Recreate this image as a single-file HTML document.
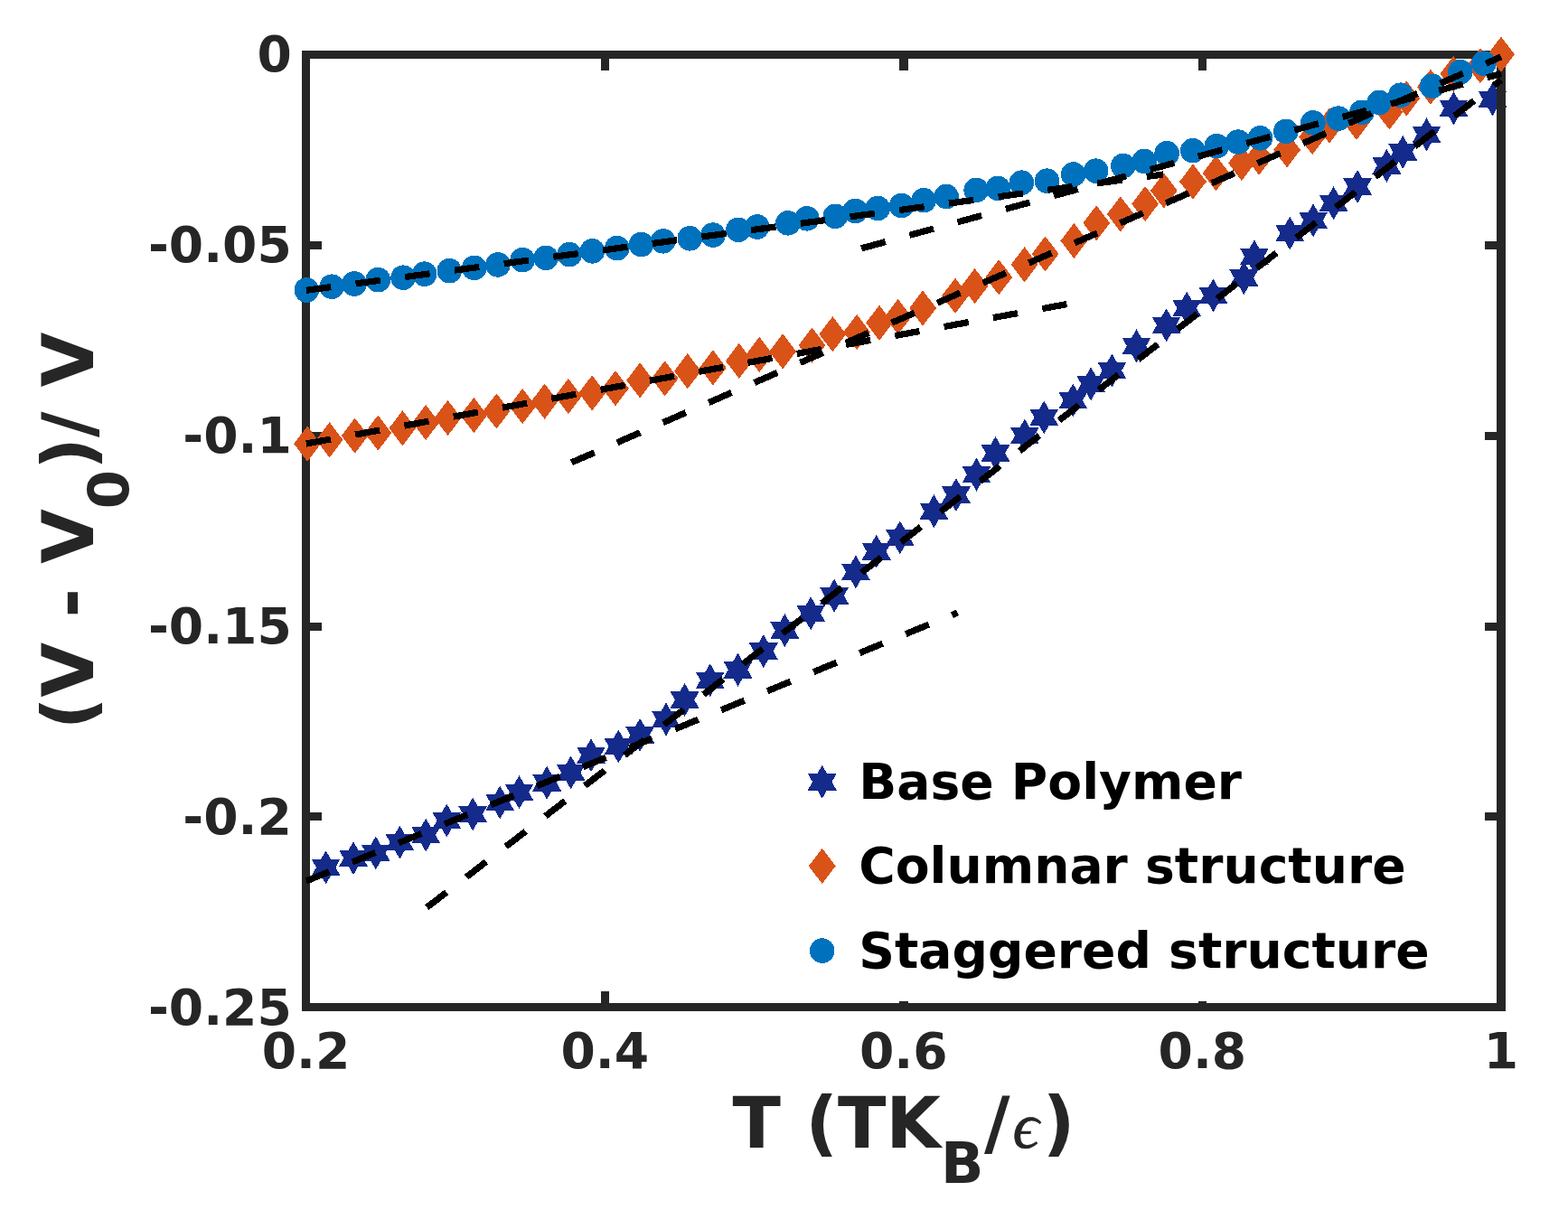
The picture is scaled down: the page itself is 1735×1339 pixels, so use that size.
<!DOCTYPE html>
<html lang="en"><head><meta charset="utf-8"><title>Volume change vs temperature</title>
<style>
html,body{margin:0;padding:0;background:#fff;}
body{width:1735px;height:1339px;overflow:hidden;}
svg{display:block;}
text{font-family:"DejaVu Sans","Liberation Sans",sans-serif;font-weight:bold;}
.tk{font-size:55.1px;fill:#262626;}
.lb{font-size:78.3px;fill:#262626;}
.sb{font-size:62.3px;}
.lg{font-size:55.15px;fill:#000;}
.ep{font-family:"Liberation Serif","DejaVu Serif",serif;font-style:italic;font-weight:normal;font-size:72.6px;stroke:#262626;stroke-width:0.5px;}
</style></head><body>
<svg width="1735" height="1339" viewBox="0 0 1735 1339" role="img" aria-label="Relative volume change versus temperature">
<rect width="1735" height="1339" fill="#fff"/>
<g fill="#142B8C" shape-rendering="crispEdges">
<polygon points="360.6,941.4 365.9,950.6 376.6,950.6 371.3,959.9 376.6,969.1 365.9,969.1 360.6,978.4 355.3,969.1 344.6,969.1 349.9,959.9 344.6,950.6 355.3,950.6"/>
<polygon points="391,931.2 396.3,940.5 407,940.5 401.7,949.7 407,959 396.3,959 391,968.2 385.7,959 375,959 380.3,949.7 375,940.5 385.7,940.5"/>
<polygon points="415.8,925.4 421.1,934.6 431.8,934.6 426.5,943.9 431.8,953.1 421.1,953.1 415.8,962.4 410.5,953.1 399.8,953.1 405.1,943.9 399.8,934.6 410.5,934.6"/>
<polygon points="442.4,913.6 447.7,922.9 458.4,922.9 453.1,932.1 458.4,941.4 447.7,941.4 442.4,950.6 437.1,941.4 426.4,941.4 431.7,932.1 426.4,922.9 437.1,922.9"/>
<polygon points="471.2,905.6 476.5,914.9 487.2,914.9 481.9,924.1 487.2,933.4 476.5,933.4 471.2,942.6 465.9,933.4 455.2,933.4 460.5,924.1 455.2,914.9 465.9,914.9"/>
<polygon points="494.3,889.5 499.6,898.8 510.3,898.8 505,908 510.3,917.2 499.6,917.2 494.3,926.5 489,917.2 478.3,917.2 483.6,908 478.3,898.8 489,898.8"/>
<polygon points="523.1,882.5 528.4,891.8 539.1,891.8 533.8,901 539.1,910.2 528.4,910.2 523.1,919.5 517.8,910.2 507.1,910.2 512.4,901 507.1,891.8 517.8,891.8"/>
<polygon points="553.2,869.5 558.5,878.8 569.2,878.8 563.9,888 569.2,897.2 558.5,897.2 553.2,906.5 547.9,897.2 537.2,897.2 542.5,888 537.2,878.8 547.9,878.8"/>
<polygon points="574.5,858.2 579.8,867.5 590.5,867.5 585.2,876.7 590.5,886 579.8,886 574.5,895.2 569.2,886 558.5,886 563.8,876.7 558.5,867.5 569.2,867.5"/>
<polygon points="605.1,847.7 610.4,857 621.1,857 615.8,866.2 621.1,875.5 610.4,875.5 605.1,884.7 599.8,875.5 589.1,875.5 594.4,866.2 589.1,857 599.8,857"/>
<polygon points="631.7,836.4 637,845.6 647.7,845.6 642.4,854.9 647.7,864.1 637,864.1 631.7,873.4 626.4,864.1 615.7,864.1 621,854.9 615.7,845.6 626.4,845.6"/>
<polygon points="654,817.3 659.3,826.5 670,826.5 664.7,835.8 670,845 659.3,845 654,854.3 648.7,845 638,845 643.3,835.8 638,826.5 648.7,826.5"/>
<polygon points="684.3,807.6 689.6,816.9 700.3,816.9 695,826.1 700.3,835.4 689.6,835.4 684.3,844.6 679,835.4 668.3,835.4 673.6,826.1 668.3,816.9 679,816.9"/>
<polygon points="708.1,794.8 713.4,804 724.1,804 718.8,813.3 724.1,822.5 713.4,822.5 708.1,831.8 702.8,822.5 692.1,822.5 697.4,813.3 692.1,804 702.8,804"/>
<polygon points="737,777.5 742.3,786.8 753,786.8 747.7,796 753,805.2 742.3,805.2 737,814.5 731.7,805.2 721,805.2 726.3,796 721,786.8 731.7,786.8"/>
<polygon points="757.6,756 762.9,765.2 773.6,765.2 768.3,774.5 773.6,783.8 762.9,783.8 757.6,793 752.3,783.8 741.6,783.8 746.9,774.5 741.6,765.2 752.3,765.2"/>
<polygon points="785.7,734.2 791,743.5 801.7,743.5 796.4,752.7 801.7,762 791,762 785.7,771.2 780.4,762 769.7,762 775,752.7 769.7,743.5 780.4,743.5"/>
<polygon points="816.5,722.7 821.8,732 832.5,732 827.2,741.2 832.5,750.5 821.8,750.5 816.5,759.7 811.2,750.5 800.5,750.5 805.8,741.2 800.5,732 811.2,732"/>
<polygon points="844.8,702.1 850.1,711.4 860.8,711.4 855.5,720.6 860.8,729.9 850.1,729.9 844.8,739.1 839.5,729.9 828.8,729.9 834.1,720.6 828.8,711.4 839.5,711.4"/>
<polygon points="868.4,679.1 873.7,688.4 884.4,688.4 879.1,697.6 884.4,706.9 873.7,706.9 868.4,716.1 863.1,706.9 852.4,706.9 857.7,697.6 852.4,688.4 863.1,688.4"/>
<polygon points="897.2,660.3 902.5,669.5 913.2,669.5 907.9,678.8 913.2,688 902.5,688 897.2,697.3 891.9,688 881.2,688 886.5,678.8 881.2,669.5 891.9,669.5"/>
<polygon points="923.1,640.7 928.4,650 939.1,650 933.8,659.2 939.1,668.5 928.4,668.5 923.1,677.7 917.8,668.5 907.1,668.5 912.4,659.2 907.1,650 917.8,650"/>
<polygon points="946.9,614.4 952.2,623.6 962.9,623.6 957.6,632.9 962.9,642.1 952.2,642.1 946.9,651.4 941.6,642.1 930.9,642.1 936.2,632.9 930.9,623.6 941.6,623.6"/>
<polygon points="969.7,591.8 975,601 985.7,601 980.4,610.3 985.7,619.5 975,619.5 969.7,628.8 964.4,619.5 953.7,619.5 959,610.3 953.7,601 964.4,601"/>
<polygon points="995.8,576.3 1001.1,585.5 1011.8,585.5 1006.5,594.8 1011.8,604 1001.1,604 995.8,613.3 990.5,604 979.8,604 985.1,594.8 979.8,585.5 990.5,585.5"/>
<polygon points="1033.4,547.2 1038.7,556.5 1049.4,556.5 1044.1,565.7 1049.4,575 1038.7,575 1033.4,584.2 1028.1,575 1017.4,575 1022.7,565.7 1017.4,556.5 1028.1,556.5"/>
<polygon points="1057.9,529.1 1063.2,538.4 1073.9,538.4 1068.6,547.6 1073.9,556.9 1063.2,556.9 1057.9,566.1 1052.6,556.9 1041.9,556.9 1047.2,547.6 1041.9,538.4 1052.6,538.4"/>
<polygon points="1080.5,506.6 1085.8,515.9 1096.5,515.9 1091.2,525.1 1096.5,534.4 1085.8,534.4 1080.5,543.6 1075.2,534.4 1064.5,534.4 1069.8,525.1 1064.5,515.9 1075.2,515.9"/>
<polygon points="1101.5,483 1106.8,492.2 1117.5,492.2 1112.2,501.5 1117.5,510.8 1106.8,510.8 1101.5,520 1096.2,510.8 1085.5,510.8 1090.8,501.5 1085.5,492.2 1096.2,492.2"/>
<polygon points="1133.9,463.5 1139.2,472.8 1149.9,472.8 1144.6,482 1149.9,491.2 1139.2,491.2 1133.9,500.5 1128.6,491.2 1117.9,491.2 1123.2,482 1117.9,472.8 1128.6,472.8"/>
<polygon points="1155.2,443.4 1160.5,452.6 1171.2,452.6 1165.9,461.9 1171.2,471.1 1160.5,471.1 1155.2,480.4 1149.9,471.1 1139.2,471.1 1144.5,461.9 1139.2,452.6 1149.9,452.6"/>
<polygon points="1187.3,424.6 1192.6,433.9 1203.3,433.9 1198,443.1 1203.3,452.4 1192.6,452.4 1187.3,461.6 1182,452.4 1171.3,452.4 1176.6,443.1 1171.3,433.9 1182,433.9"/>
<polygon points="1207.1,406.3 1212.4,415.6 1223.1,415.6 1217.8,424.8 1223.1,434.1 1212.4,434.1 1207.1,443.3 1201.8,434.1 1191.1,434.1 1196.4,424.8 1191.1,415.6 1201.8,415.6"/>
<polygon points="1230.4,391.5 1235.7,400.8 1246.4,400.8 1241.1,410 1246.4,419.2 1235.7,419.2 1230.4,428.5 1225.1,419.2 1214.4,419.2 1219.7,410 1214.4,400.8 1225.1,400.8"/>
<polygon points="1257.5,364.4 1262.8,373.6 1273.5,373.6 1268.2,382.9 1273.5,392.1 1262.8,392.1 1257.5,401.4 1252.2,392.1 1241.5,392.1 1246.8,382.9 1241.5,373.6 1252.2,373.6"/>
<polygon points="1290.6,341.4 1295.9,350.6 1306.6,350.6 1301.3,359.9 1306.6,369.1 1295.9,369.1 1290.6,378.4 1285.3,369.1 1274.6,369.1 1279.9,359.9 1274.6,350.6 1285.3,350.6"/>
<polygon points="1313.2,322.6 1318.5,331.9 1329.2,331.9 1323.9,341.1 1329.2,350.4 1318.5,350.4 1313.2,359.6 1307.9,350.4 1297.2,350.4 1302.5,341.1 1297.2,331.9 1307.9,331.9"/>
<polygon points="1342.5,308.5 1347.8,317.8 1358.5,317.8 1353.2,327 1358.5,336.2 1347.8,336.2 1342.5,345.5 1337.2,336.2 1326.5,336.2 1331.8,327 1326.5,317.8 1337.2,317.8"/>
<polygon points="1376.4,289.2 1381.7,298.4 1392.4,298.4 1387.1,307.7 1392.4,316.9 1381.7,316.9 1376.4,326.2 1371.1,316.9 1360.4,316.9 1365.7,307.7 1360.4,298.4 1371.1,298.4"/>
<polygon points="1387.9,265.4 1393.2,274.6 1403.9,274.6 1398.6,283.9 1403.9,293.1 1393.2,293.1 1387.9,302.4 1382.6,293.1 1371.9,293.1 1377.2,283.9 1371.9,274.6 1382.6,274.6"/>
<polygon points="1427.2,239.6 1432.5,248.9 1443.2,248.9 1437.9,258.1 1443.2,267.4 1432.5,267.4 1427.2,276.6 1421.9,267.4 1411.2,267.4 1416.5,258.1 1411.2,248.9 1421.9,248.9"/>
<polygon points="1453.1,225.3 1458.4,234.6 1469.1,234.6 1463.8,243.8 1469.1,253.1 1458.4,253.1 1453.1,262.3 1447.8,253.1 1437.1,253.1 1442.4,243.8 1437.1,234.6 1447.8,234.6"/>
<polygon points="1475.6,206.3 1480.9,215.6 1491.6,215.6 1486.3,224.8 1491.6,234.1 1480.9,234.1 1475.6,243.3 1470.3,234.1 1459.6,234.1 1464.9,224.8 1459.6,215.6 1470.3,215.6"/>
<polygon points="1502.1,188 1507.4,197.2 1518.1,197.2 1512.8,206.5 1518.1,215.8 1507.4,215.8 1502.1,225 1496.8,215.8 1486.1,215.8 1491.4,206.5 1486.1,197.2 1496.8,197.2"/>
<polygon points="1534.4,164.9 1539.7,174.2 1550.4,174.2 1545.1,183.4 1550.4,192.7 1539.7,192.7 1534.4,201.9 1529.1,192.7 1518.4,192.7 1523.7,183.4 1518.4,174.2 1529.1,174.2"/>
<polygon points="1552.2,149.8 1557.5,159.1 1568.2,159.1 1562.9,168.3 1568.2,177.6 1557.5,177.6 1552.2,186.8 1546.9,177.6 1536.2,177.6 1541.5,168.3 1536.2,159.1 1546.9,159.1"/>
<polygon points="1578.5,130.4 1583.8,139.7 1594.5,139.7 1589.2,148.9 1594.5,158.2 1583.8,158.2 1578.5,167.4 1573.2,158.2 1562.5,158.2 1567.8,148.9 1562.5,139.7 1573.2,139.7"/>
<polygon points="1608.5,101.4 1613.8,110.7 1624.5,110.7 1619.2,119.9 1624.5,129.2 1613.8,129.2 1608.5,138.4 1603.2,129.2 1592.5,129.2 1597.8,119.9 1592.5,110.7 1603.2,110.7"/>
<polygon points="1651.5,91.4 1656.8,100.7 1667.5,100.7 1662.2,109.9 1667.5,119.2 1656.8,119.2 1651.5,128.4 1646.2,119.2 1635.5,119.2 1640.8,109.9 1635.5,100.7 1646.2,100.7"/>
</g>
<g fill="#262626" shape-rendering="crispEdges">
<rect x="334" y="56" width="1332" height="9"/>
<rect x="334" y="1110" width="1332" height="9"/>
<rect x="334" y="56" width="9" height="1063"/>
<rect x="1656" y="56" width="10" height="1063"/>
<rect x="665" y="65" width="9" height="13"/>
<rect x="665" y="1097" width="9" height="13"/>
<rect x="995" y="65" width="10" height="13"/>
<rect x="995" y="1097" width="10" height="13"/>
<rect x="1326" y="65" width="9" height="13"/>
<rect x="1326" y="1097" width="9" height="13"/>
<rect x="343" y="267" width="13" height="9"/>
<rect x="1643" y="267" width="13" height="9"/>
<rect x="343" y="478" width="13" height="9"/>
<rect x="1643" y="478" width="13" height="9"/>
<rect x="343" y="689" width="13" height="9"/>
<rect x="1643" y="689" width="13" height="9"/>
<rect x="343" y="899" width="13" height="9"/>
<rect x="1643" y="899" width="13" height="9"/>
</g>
<rect x="886" y="826" width="716" height="281.9" fill="#fff"/>
<g fill="#D95319" shape-rendering="crispEdges">
<polygon points="340.1,471.5 355,491.1 340.1,510.7 325.2,491.1"/>
<polygon points="364.6,467.2 379.5,486.8 364.6,506.4 349.7,486.8"/>
<polygon points="392.7,462.5 407.6,482.1 392.7,501.7 377.8,482.1"/>
<polygon points="418.3,459.5 433.2,479.1 418.3,498.7 403.4,479.1"/>
<polygon points="445.4,454.2 460.3,473.8 445.4,493.4 430.5,473.8"/>
<polygon points="471.2,447.9 486.1,467.5 471.2,487.1 456.3,467.5"/>
<polygon points="495.5,442.9 510.4,462.5 495.5,482.1 480.6,462.5"/>
<polygon points="524.3,439.9 539.2,459.5 524.3,479.1 509.4,459.5"/>
<polygon points="549.4,435.4 564.3,455 549.4,474.6 534.5,455"/>
<polygon points="578.2,429.9 593.1,449.5 578.2,469.1 563.3,449.5"/>
<polygon points="602.6,424.6 617.5,444.2 602.6,463.8 587.7,444.2"/>
<polygon points="628.9,418.9 643.8,438.5 628.9,458.1 614,438.5"/>
<polygon points="655.2,415.3 670.1,434.9 655.2,454.5 640.3,434.9"/>
<polygon points="681,410.1 695.9,429.7 681,449.3 666.1,429.7"/>
<polygon points="708.1,401.3 723,420.9 708.1,440.5 693.2,420.9"/>
<polygon points="735.7,399.3 750.6,418.9 735.7,438.5 720.8,418.9"/>
<polygon points="760.8,391.1 775.7,410.7 760.8,430.3 745.9,410.7"/>
<polygon points="788.9,387.3 803.8,406.9 788.9,426.5 774,406.9"/>
<polygon points="817.8,379.8 832.7,399.4 817.8,419 802.9,399.4"/>
<polygon points="840.3,372.8 855.2,392.4 840.3,412 825.4,392.4"/>
<polygon points="866.1,369.3 881,388.9 866.1,408.5 851.2,388.9"/>
<polygon points="898.5,362.5 913.4,382.1 898.5,401.7 883.6,382.1"/>
<polygon points="921.3,350.2 936.2,369.8 921.3,389.4 906.4,369.8"/>
<polygon points="948.1,347.9 963,367.5 948.1,387.1 933.2,367.5"/>
<polygon points="973,337.7 987.9,357.3 973,376.9 958.1,357.3"/>
<polygon points="993.7,330.9 1008.6,350.5 993.7,370.1 978.8,350.5"/>
<polygon points="1021.1,321.4 1036,341 1021.1,360.6 1006.2,341"/>
<polygon points="1057,307.7 1071.9,327.3 1057,346.9 1042.1,327.3"/>
<polygon points="1078.6,297 1093.5,316.6 1078.6,336.2 1063.7,316.6"/>
<polygon points="1105.2,287.2 1120.1,306.8 1105.2,326.4 1090.3,306.8"/>
<polygon points="1133.6,273.2 1148.5,292.8 1133.6,312.4 1118.7,292.8"/>
<polygon points="1156.6,261.4 1171.5,281 1156.6,300.6 1141.7,281"/>
<polygon points="1188.4,246.9 1203.3,266.5 1188.4,286.1 1173.5,266.5"/>
<polygon points="1213.2,227.3 1228.1,246.9 1213.2,266.5 1198.3,246.9"/>
<polygon points="1239.8,217.3 1254.7,236.9 1239.8,256.5 1224.9,236.9"/>
<polygon points="1267.1,206 1282,225.6 1267.1,245.2 1252.2,225.6"/>
<polygon points="1287.9,191.4 1302.8,211 1287.9,230.6 1273,211"/>
<polygon points="1320,181.4 1334.9,201 1320,220.6 1305.1,201"/>
<polygon points="1345.6,172.1 1360.5,191.7 1345.6,211.3 1330.7,191.7"/>
<polygon points="1373.9,160.9 1388.8,180.5 1373.9,200.1 1359,180.5"/>
<polygon points="1393.2,154.6 1408.1,174.2 1393.2,193.8 1378.3,174.2"/>
<polygon points="1424.1,146.3 1439,165.9 1424.1,185.5 1409.2,165.9"/>
<polygon points="1452.1,132 1467,151.6 1452.1,171.2 1437.2,151.6"/>
<polygon points="1471,119.5 1485.9,139.1 1471,158.7 1456.1,139.1"/>
<polygon points="1501,115.7 1515.9,135.3 1501,154.9 1486.1,135.3"/>
<polygon points="1537.4,104.4 1552.3,124 1537.4,143.6 1522.5,124"/>
<polygon points="1556.2,89.4 1571.1,109 1556.2,128.6 1541.3,109"/>
<polygon points="1582.9,76.7 1597.8,96.3 1582.9,115.9 1568,96.3"/>
<polygon points="1608.3,62.1 1623.2,81.7 1608.3,101.3 1593.4,81.7"/>
<polygon points="1637.9,53.1 1652.8,72.7 1637.9,92.3 1623,72.7"/>
<polygon points="1661,40.6 1675.9,60.2 1661,79.8 1646.1,60.2"/>
</g>
<g fill="#0072BD" shape-rendering="crispEdges">
<circle cx="339.3" cy="321" r="13.8"/>
<circle cx="367.1" cy="317.2" r="13.8"/>
<circle cx="392" cy="314" r="13.8"/>
<circle cx="418.3" cy="309.7" r="13.8"/>
<circle cx="446.1" cy="307.2" r="13.8"/>
<circle cx="469.7" cy="303.2" r="13.8"/>
<circle cx="497.3" cy="299.7" r="13.8"/>
<circle cx="524.8" cy="296.4" r="13.8"/>
<circle cx="550.9" cy="292.9" r="13.8"/>
<circle cx="578.2" cy="287.6" r="13.8"/>
<circle cx="604.1" cy="285.4" r="13.8"/>
<circle cx="630.1" cy="281.6" r="13.8"/>
<circle cx="655.5" cy="277.9" r="13.8"/>
<circle cx="682.8" cy="274.6" r="13.8"/>
<circle cx="709.6" cy="270.6" r="13.8"/>
<circle cx="733.7" cy="266.8" r="13.8"/>
<circle cx="763.3" cy="263.8" r="13.8"/>
<circle cx="788.9" cy="260.1" r="13.8"/>
<circle cx="817" cy="254.3" r="13.8"/>
<circle cx="837.8" cy="251" r="13.8"/>
<circle cx="871.9" cy="246.8" r="13.8"/>
<circle cx="892.9" cy="241.8" r="13.8"/>
<circle cx="924.3" cy="239.3" r="13.8"/>
<circle cx="946.3" cy="233.5" r="13.8"/>
<circle cx="971.2" cy="230.5" r="13.8"/>
<circle cx="997.7" cy="227.5" r="13.8"/>
<circle cx="1022.1" cy="221.7" r="13.8"/>
<circle cx="1047.1" cy="217.5" r="13.8"/>
<circle cx="1080.2" cy="210.4" r="13.8"/>
<circle cx="1104.1" cy="208.4" r="13.8"/>
<circle cx="1130.4" cy="202.2" r="13.8"/>
<circle cx="1158.5" cy="200.2" r="13.8"/>
<circle cx="1187.6" cy="193" r="13.8"/>
<circle cx="1212.7" cy="189.2" r="13.8"/>
<circle cx="1242.8" cy="183.5" r="13.8"/>
<circle cx="1266.1" cy="178.5" r="13.8"/>
<circle cx="1291.2" cy="169.7" r="13.8"/>
<circle cx="1319.8" cy="166.7" r="13.8"/>
<circle cx="1346.3" cy="161.7" r="13.8"/>
<circle cx="1369.9" cy="157.1" r="13.8"/>
<circle cx="1394.5" cy="152.9" r="13.8"/>
<circle cx="1422.8" cy="145.4" r="13.8"/>
<circle cx="1452.9" cy="135.8" r="13.8"/>
<circle cx="1481" cy="131.1" r="13.8"/>
<circle cx="1506.8" cy="124.3" r="13.8"/>
<circle cx="1526.1" cy="113.5" r="13.8"/>
<circle cx="1549.9" cy="105.2" r="13.8"/>
<circle cx="1584.5" cy="95.3" r="13.8"/>
<circle cx="1615.8" cy="79.6" r="13.8"/>
<circle cx="1641.8" cy="70.2" r="13.8"/>
</g>
<g stroke="#000" stroke-width="7.2" fill="none" stroke-dasharray="27.6 27.6" shape-rendering="crispEdges">
<line x1="338.8" y1="975" x2="1059.5" y2="678"/>
<line x1="472.3" y1="1004.2" x2="1661" y2="88.4"/>
<line x1="338.8" y1="491" x2="1181" y2="336.5"/>
<line x1="632.4" y1="511.8" x2="1661" y2="62.9"/>
<line x1="338.8" y1="321.3" x2="1287" y2="193"/>
<line x1="953.1" y1="274.9" x2="1661" y2="81.5"/>
</g>
<text class="tk" x="322.8" y="79" text-anchor="end">0</text>
<text class="tk" x="322.8" y="290" text-anchor="end">-0.05</text>
<text class="tk" x="322.8" y="501" text-anchor="end">-0.1</text>
<text class="tk" x="322.8" y="712" text-anchor="end">-0.15</text>
<text class="tk" x="322.8" y="923" text-anchor="end">-0.2</text>
<text class="tk" x="322.8" y="1134" text-anchor="end">-0.25</text>
<text class="tk" x="338.6" y="1182" text-anchor="middle">0.2</text>
<text class="tk" x="669.2" y="1182" text-anchor="middle">0.4</text>
<text class="tk" x="999.8" y="1182" text-anchor="middle">0.6</text>
<text class="tk" x="1330.4" y="1182" text-anchor="middle">0.8</text>
<text class="tk" x="1661" y="1182" text-anchor="middle">1</text>
<text class="lb" x="810.5" y="1270">T (TK<tspan class="sb" dy="38.8">B</tspan><tspan x="1088.9" dy="-38.8">/</tspan><tspan class="ep" x="1120.4">ϵ</tspan><tspan x="1153.8">)</tspan></text>
<text class="lb" transform="translate(103.2 807.2) rotate(-90)" x="0" y="0">(V - V<tspan class="sb" dy="39">0</tspan><tspan dy="-39">)/ V</tspan></text>
<g shape-rendering="crispEdges">
<polygon fill="#142B8C" points="909.7,846.7 915,856 925.7,856 920.4,865.2 925.7,874.5 915,874.5 909.7,883.7 904.4,874.5 893.7,874.5 899,865.2 893.7,856 904.4,856"/>
<polygon fill="#D95319" points="909.7,938.8 924.6,958.4 909.7,978 894.8,958.4"/>
<circle fill="#0072BD" cx="909.7" cy="1052.1" r="13.8"/>
</g>
<text class="lg" x="950.2" y="884.0">Base Polymer</text>
<text class="lg" x="950.2" y="977.3">Columnar structure</text>
<text class="lg" x="950.2" y="1070.6">Staggered structure</text>
</svg>
</body></html>
